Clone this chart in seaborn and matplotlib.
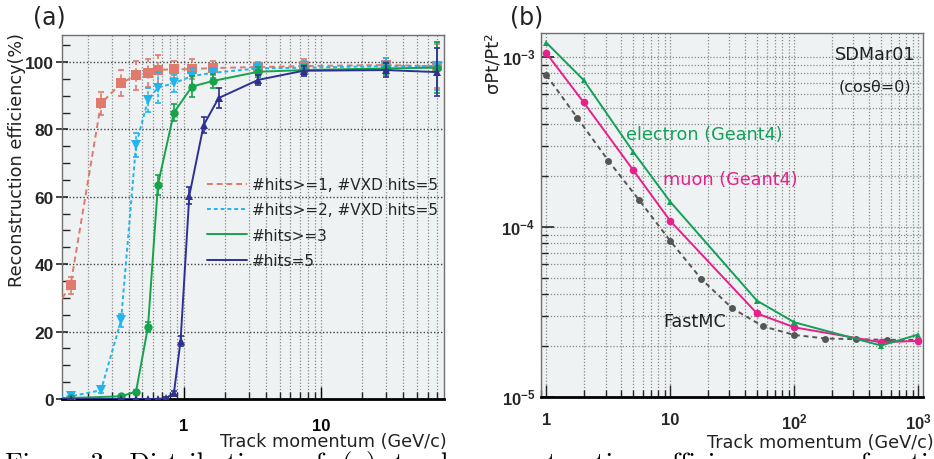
import numpy as np
import pandas as pd
import matplotlib
matplotlib.use("Agg")
import matplotlib.pyplot as plt
from matplotlib.lines import Line2D
from matplotlib.ticker import FixedLocator, NullFormatter, LogLocator
import seaborn as sns

# ---- panel (a): track reconstruction efficiency ----
x_hits1 = [0.05, 0.15, 0.25, 0.35, 0.45, 0.55, 0.65, 0.85, 1.15, 1.65, 3.5, 7.5, 30, 70]
eff_hits1 = [3.0, 33.8, 87.7, 93.7, 96.0, 96.8, 97.7, 97.8, 97.9, 98.2, 98.5, 98.8, 99.1, 98.7]
err_hits1 = [0, 2.5, 3.5, 3.8, 4.2, 4.1, 4.3, 2.5, 3.0, 2.0, 1.5, 2.0, 2.0, 6.5]

x_hits2 = [0.05, 0.15, 0.25, 0.35, 0.45, 0.55, 0.65, 0.85, 1.15, 1.65, 3.5, 7.5, 30, 70]
eff_hits2 = [0.3, 0.8, 2.6, 23.3, 75.4, 88.7, 92.4, 93.7, 95.8, 96.8, 98.1, 98.3, 98.8, 98.8]
err_hits2 = [0, 0.5, 0.7, 2.0, 3.5, 3.5, 4.5, 2.5, 2.5, 1.5, 1.5, 2.0, 2.5, 7.0]

x_hits3 = [0.05, 0.15, 0.35, 0.45, 0.55, 0.65, 0.85, 1.15, 1.65, 3.5, 7.5, 30, 70]
eff_hits3 = [0.2, 0.3, 0.8, 2.2, 21.4, 63.6, 85.0, 92.7, 94.4, 97.1, 97.6, 98.1, 98.3]
err_hits3 = [0, 0.3, 0.3, 0.5, 1.5, 3.0, 2.5, 3.0, 2.0, 1.5, 1.5, 2.0, 7.5]

x_hits5 = [0.05, 0.15, 0.35, 0.45, 0.55, 0.65, 0.75, 0.85, 0.95, 1.1, 1.4, 1.8, 3.5, 7.5, 30, 70]
eff_hits5 = [0, 0, 0, 0, 0, 0, 0.3, 1.8, 17.2, 60.3, 81.3, 89.3, 94.7, 97.4, 97.6, 97.0]
err_hits5 = [0, 0, 0, 0, 0, 0, 0.3, 0.5, 1.5, 2.5, 2.5, 3.0, 1.5, 1.5, 2.0, 7.0]

labels_a = ["#hits>=1, #VXD hits=5", "#hits>=2, #VXD hits=5", "#hits>=3", "#hits=5"]

# ---- panel (b): momentum resolution ----
p_geant = [1, 2, 5, 10, 50, 100, 500, 1000]
res_electron = [1.21e-3, 7.29e-4, 2.77e-4, 1.40e-4, 3.67e-5, 2.74e-5, 2.0e-5, 2.32e-5]
res_muon = [1.05e-3, 5.39e-4, 2.16e-4, 1.08e-4, 3.09e-5, 2.56e-5, 2.09e-5, 2.13e-5]
p_fast = [1, 1.78, 3.16, 5.62, 10, 17.8, 31.6, 56.2, 100, 178, 316, 562, 1000]
res_fast = [7.8e-4, 4.36e-4, 2.45e-4, 1.43e-4, 8.24e-5, 4.92e-5, 3.31e-5, 2.59e-5,
            2.31e-5, 2.20e-5, 2.18e-5, 2.16e-5, 2.16e-5]

sns.set_style("ticks")
plt.rcParams["font.family"] = ["DejaVu Sans"]
plt.rcParams["mathtext.fontset"] = "custom"
plt.rcParams["mathtext.rm"] = "Liberation Sans"
plt.rcParams["mathtext.bf"] = "Liberation Sans:bold"
plt.rcParams["mathtext.it"] = "Liberation Sans:italic"

BG = "#eef2f2"
TXT = 12.7

fig = plt.figure(figsize=(9.34, 4.6), dpi=100)
ax1 = fig.add_axes([0.0664, 0.1304, 0.409, 0.7913])
ax2 = fig.add_axes([0.5789, 0.1354, 0.409, 0.7907])


def frame(ax):
    ax.set_facecolor(BG)
    for side in ["top", "right", "left"]:
        ax.spines[side].set_color("#707070")
        ax.spines[side].set_linewidth(1.0)
    ax.spines["bottom"].set_color("black")
    ax.spines["bottom"].set_linewidth(2.0)
    ax.set_axisbelow(True)


# ---------------- (a) ----------------
frame(ax1)
series_a = [
    (x_hits1, eff_hits1, err_hits1, "#e07a6c", "s", (0, (3, 2)), 6.5),
    (x_hits2, eff_hits2, err_hits2, "#22b4ee", "v", (0, (2, 1.5)), 6.5),
    (x_hits3, eff_hits3, err_hits3, "#16a34a", "o", "-", 6),
    (x_hits5, eff_hits5, err_hits5, "#2e3192", "^", "-", 5.5),
]
for xs, ys, es, col, mk, ls, ms in series_a:
    df = pd.DataFrame({"p": xs, "eff": ys})
    sns.lineplot(data=df, x="p", y="eff", ax=ax1, color=col, marker=mk, markersize=ms,
                 markeredgewidth=0, linestyle=ls, linewidth=1.4,
                 estimator=None, sort=False, zorder=3)
    eb = ax1.errorbar(xs, ys, yerr=es, fmt="none", ecolor=col, elinewidth=1.2,
                      capsize=2, capthick=1.2, zorder=3)
    if ls != "-":
        eb[2][0].set_linestyle(ls)

ax1.set_xscale("log")
ax1.set_xlim(0.13, 79)
ax1.set_ylim(0, 108)
ax1.set_xticks([1, 10])
ax1.set_xticklabels(["1", "10"], fontfamily="Liberation Sans", fontweight="bold", fontsize=12)
minor_a = [0.2, 0.3, 0.4, 0.5, 0.6, 0.7, 0.8, 0.9, 2, 3, 4, 5, 6, 7, 8, 9, 20, 30, 40, 50, 60, 70]
ax1.xaxis.set_minor_locator(FixedLocator(minor_a))
ax1.xaxis.set_minor_formatter(NullFormatter())
ax1.set_yticks([0, 20, 40, 60, 80, 100])
ax1.set_yticklabels(["0", "20", "40", "60", "80", "100"], fontfamily="Liberation Sans",
                    fontweight="bold", fontsize=12.5)
ax1.yaxis.set_minor_locator(FixedLocator(np.arange(5, 108, 5)))
ax1.tick_params(axis="x", which="major", direction="in", length=9, width=1, pad=14, colors="black")
ax1.tick_params(axis="x", which="minor", direction="in", length=5, width=1)
ax1.tick_params(axis="y", which="major", direction="inout", length=8, width=1.2, pad=2)
ax1.tick_params(axis="y", which="minor", direction="in", length=6, width=1)
ax1.grid(True, axis="x", which="both", color="#8a8a8a", linestyle=(0, (1, 1.5)), linewidth=0.9)
ax1.grid(True, axis="y", which="major", color="#444444", linestyle=(0, (1, 1.5)), linewidth=1.0)
ax1.set_xlabel("")
ax1.set_ylabel("")
ax1.text(-0.118, 1.008, "Reconstruction efficiency(%)", rotation=90, ha="center", va="top",
         fontsize=TXT, color="#222222", transform=ax1.transAxes)
ax1.text(1.008, -0.09, "Track momentum (GeV/c)", ha="right", va="top", fontsize=TXT,
         color="#222222", transform=ax1.transAxes)

handles = [Line2D([], [], color=c, linestyle=ls, linewidth=1.4) for _, _, _, c, _, ls, _ in series_a]
ax1.legend(handles, labels_a, loc="upper left", bbox_to_anchor=(0.3796, 0.61), frameon=False,
           fontsize=11, handlelength=2.6, handletextpad=0.35, labelspacing=0.68,
           borderpad=0, borderaxespad=0)

# ---------------- (b) ----------------
frame(ax2)
series_b = [
    (p_fast, res_fast, "#555555", "o", (0, (2.5, 2)), 5),
    (p_geant, res_muon, "#e8208c", "o", "-", 5.5),
    (p_geant, res_electron, "#12a05a", "^", "-", 5),
]
for xs, ys, col, mk, ls, ms in series_b:
    df = pd.DataFrame({"p": xs, "res": ys})
    sns.lineplot(data=df, x="p", y="res", ax=ax2, color=col, marker=mk, markersize=ms,
                 markeredgewidth=0, linestyle=ls, linewidth=1.4,
                 estimator=None, sort=False, zorder=3)

ax2.set_xscale("log")
ax2.set_yscale("log")
ax2.set_xlim(0.9, 1085)
ax2.set_ylim(1e-5, 1.38e-3)
ax2.set_xticks([1, 10, 100, 1000])
ax2.set_xticklabels(["1", "10", r"$\mathbf{10^{2}}$", r"$\mathbf{10^{3}}$"],
                    fontfamily="Liberation Sans", fontweight="bold", fontsize=12)
ax2.set_yticks([1e-5, 1e-4, 1e-3])
ax2.set_yticklabels([r"$\mathbf{10^{-5}}$", r"$\mathbf{10^{-4}}$", r"$\mathbf{10^{-3}}$"],
                    fontsize=12)
ax2.xaxis.set_minor_locator(LogLocator(base=10, subs=np.arange(2, 10), numticks=20))
ax2.yaxis.set_minor_locator(LogLocator(base=10, subs=np.arange(2, 10), numticks=20))
ax2.xaxis.set_minor_formatter(NullFormatter())
ax2.yaxis.set_minor_formatter(NullFormatter())
ax2.tick_params(axis="x", which="major", direction="in", length=9, width=1, pad=11)
ax2.tick_params(axis="x", which="minor", direction="in", length=5, width=1)
ax2.tick_params(axis="y", which="major", direction="in", length=9, width=1.2, pad=4)
ax2.tick_params(axis="y", which="minor", direction="in", length=5, width=1)
ax2.grid(True, which="both", color="#8a8a8a", linestyle=(0, (1, 1.5)), linewidth=0.9)
ax2.set_xlabel("")
ax2.set_ylabel("")
ax2.text(-0.125, 1.003, "σPt/Pt²", rotation=90, ha="center", va="top",
         fontsize=13, color="#222222", transform=ax2.transAxes)
ax2.text(1.028, -0.1, "Track momentum (GeV/c)", ha="right", va="top", fontsize=TXT,
         color="#222222", transform=ax2.transAxes)

ax2.text(0.980, 0.942, "SDMar01", ha="right", va="center", fontsize=TXT, color="#222222",
         transform=ax2.transAxes)
ax2.text(0.971, 0.855, "(cosθ=0)", ha="right", va="center", fontsize=11.5, color="#222222",
         transform=ax2.transAxes)
ax2.text(0.223, 0.722, "electron (Geant4)", ha="left", va="center", fontsize=TXT,
         color="#12a05a", transform=ax2.transAxes)
ax2.text(0.321, 0.599, "muon (Geant4)", ha="left", va="center", fontsize=TXT,
         color="#e8208c", transform=ax2.transAxes)
ax2.text(0.320, 0.209, "FastMC", ha="left", va="center", fontsize=TXT,
         color="#222222", transform=ax2.transAxes)

# panel tags
fig.text(33 / 934, 1 - 5 / 460, "(a)", ha="left", va="top", fontsize=17, color="#222222")
fig.text(510 / 934, 1 - 5 / 460, "(b)", ha="left", va="top", fontsize=17, color="#222222")

# caption line, cut off at the lower edge as in the source
fig.text(5 / 934, 9 / 460, "Figure 3:  Distributions  of  (a)  track  reconstruction  efficiency  as  a  function  of",
         ha="left", va="top", fontsize=19.5, fontfamily="cmr10", color="black")

fig.savefig("out.png", dpi=100)
